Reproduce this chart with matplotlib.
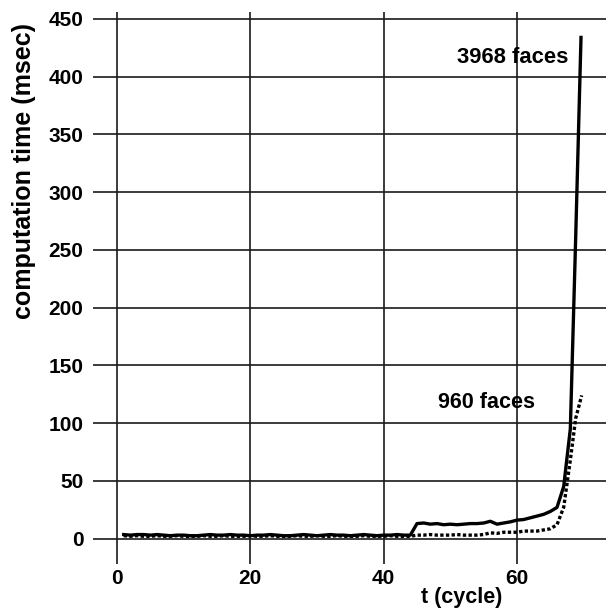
import numpy as np
import matplotlib.pyplot as plt

plt.rcParams['font.family'] = ['Liberation Sans', 'DejaVu Sans']
plt.rcParams['font.weight'] = 'bold'

# t (cycle); the last two samples fall between whole cycles
t_3968 = list(range(1, 69)) + [68.8, 69.6]
t_960 = list(range(1, 69)) + [68.8, 69.7]

# 3968 faces (solid)
faces_3968 = [3.5, 3.0, 3.5, 3.5, 3.0, 3.5, 3.0, 2.5, 3.0, 3.0,
              2.5, 2.5, 3.0, 3.5, 3.0, 3.0, 3.5, 3.0, 3.0, 2.5,
              3.0, 3.0, 3.5, 3.0, 2.5, 2.5, 3.0, 3.5, 3.0, 2.5,
              3.0, 3.5, 3.0, 3.0, 2.5, 3.0, 3.5, 3.0, 2.5, 3.0,
              3.0, 3.5, 3.0, 3.0, 13.0, 13.5, 12.5, 13.0, 12.0, 12.5,
              12.0, 12.5, 13.0, 13.0, 13.5, 15.0, 12.5, 13.5, 14.5, 16.0,
              16.5, 18.0, 19.5, 21.0, 23.5, 27.0, 45.0, 95.0, 260.0, 434.0]

# 960 faces (dotted)
faces_960 = [2.5, 2.0, 2.5, 2.0, 2.0, 2.5, 2.0, 2.0, 2.5, 2.0,
             2.0, 2.0, 2.5, 2.0, 2.0, 2.5, 2.0, 2.0, 2.0, 2.5,
             2.0, 2.0, 2.5, 2.0, 2.0, 2.0, 2.5, 2.0, 2.0, 2.5,
             2.0, 2.0, 2.5, 2.0, 2.0, 2.0, 2.5, 2.0, 2.0, 2.0,
             2.5, 2.0, 2.0, 2.0, 3.0, 3.0, 3.5, 3.0, 3.0, 3.0,
             3.5, 3.0, 3.0, 3.0, 3.5, 5.0, 4.5, 5.5, 5.5, 5.5,
             6.5, 6.5, 6.5, 7.5, 8.5, 12.0, 27.0, 68.0, 104.0, 124.0]

xticks = [0, 20, 40, 60]
yticks = [0, 50, 100, 150, 200, 250, 300, 350, 400, 450]

fig = plt.figure(figsize=(6.06, 6.10), dpi=100)
ax = fig.add_axes([93/606, 46/610, 1 - 93/606, (564 - 12)/610])
ax.set_xlim(-3.6, 73.35)
ax.set_ylim(-22, 456)

# grid lines like the scanned figure
ax.hlines(yticks, -3.6, 73.35, color='#1a1a1a', lw=1.2)
ax.vlines(xticks, -22, 456, color='#1a1a1a', lw=1.2)

ax.plot(t_3968, faces_3968, color='black', lw=2.4)
ax.plot(t_960, faces_960, color='black', lw=2.4, linestyle=(0, (1, 0.7)),
        dash_capstyle='butt')

ax.text(67.65, 416.5, '3968 faces', ha='right', va='center', fontsize=15.8)
ax.text(62.7, 117.5, '960 faces', ha='right', va='center', fontsize=15.5)

for s in ax.spines.values():
    s.set_visible(False)
ax.set_xticks(xticks)
ax.set_yticks(yticks)
ax.tick_params(length=0, labelsize=15)
ax.tick_params(axis='x', pad=3.5)
ax.tick_params(axis='y', pad=7)

fig.text(462/606, 1 - 598/610, 't (cycle)', ha='center', va='center', fontsize=15.5)
fig.text(24/606, 1 - 171/610, 'computation time (msec)', ha='center', va='center',
         rotation=90, fontsize=18)

plt.savefig('out.png', dpi=100)
